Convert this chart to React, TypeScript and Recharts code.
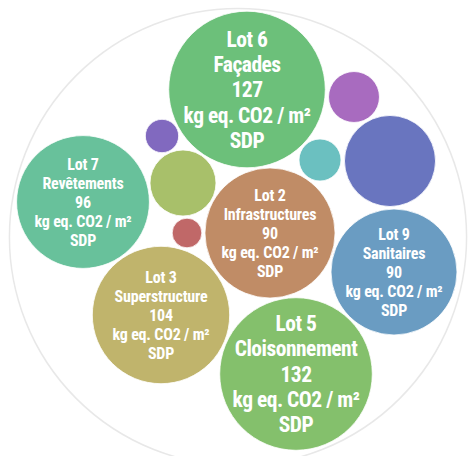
import React from 'react';
import { ScatterChart, Scatter, XAxis, YAxis, ZAxis } from 'recharts';

// Bubble data
const lotNames = ['Lot 6', 'Lot 5', 'Lot 3', 'Lot 7', 'Lot 2', 'Lot 9', 'Lot 8', 'Lot 4', 'Lot 10', 'Lot 11', 'Lot 12', 'Lot 1'];
const lotTitles = ['Façades', 'Cloisonnement', 'Superstructure', 'Revêtements', 'Infrastructures', 'Sanitaires', '', '', '', '', '', ''];
const labelValues: (number | null)[] = [127, 132, 104, 96, 90, 90, null, null, null, null, null, null];
const bubbleWeights = [139, 132, 107, 100, 96, 90, 47, 24.7, 14.7, 10, 6.3, 5];
const posX = [247, 296, 161, 83, 270, 394, 390, 183, 354, 320, 162, 187];
const posY = [89.5, 374, 315, 202, 233, 272, 161, 183, 97, 160, 136, 233];
const colors = ['#6cc07a', '#84c06c', '#c0b46c', '#68c19b', '#c08c66', '#6a9cc2', '#6975bf', '#a8c06a', '#a86bbf', '#6bc0c0', '#8169bf', '#c06868'];
const unitLine1 = 'kg eq. CO2 / m²';
const unitLine2 = 'SDP';

// Enclosing circle
const enclosure = [{ x: 238, y: 237, weight: 1185 }];

const W = 469;
const H = 456;
const PX_PER_SQRT = 6.64;
const ZMAX = 1200;

const bubbles = lotNames.map((name, i) => ({
  name,
  title: lotTitles[i],
  value: labelValues[i],
  weight: bubbleWeights[i],
  x: posX[i],
  y: posY[i],
  color: colors[i],
}));

const FONT = '"Liberation Sans Narrow", "Arial Narrow", "Roboto Condensed", "Liberation Sans", Arial, sans-serif';

const BubbleShape = (props: any) => {
  const { cx, cy, width, payload } = props;
  const r = width / 2;
  const big = payload.weight > 120;
  const fs = big ? 21.5 : 16;
  const lh = big ? 25.3 : 19;
  const ls = big ? -0.5 : -0.2;
  const lines = payload.value != null ? [payload.name, payload.title, String(payload.value), unitLine1, unitLine2] : [];
  const y0 = cy - 2 * lh + fs * 0.36;
  return (
    <g>
      <circle cx={cx} cy={cy} r={r} fill={payload.color} stroke="#ffffff" strokeWidth={0.8} />
      {lines.length > 0 && (
        <text textAnchor="middle" fill="#ffffff" fontFamily={FONT} fontWeight="bold" fontSize={fs} letterSpacing={ls}>
          {lines.map((l, k) => (
            <tspan key={k} x={cx} y={y0 + k * lh}>{l}</tspan>
          ))}
        </text>
      )}
    </g>
  );
};

const EnclosureShape = (props: any) => {
  const { cx, cy, width } = props;
  return <circle cx={cx} cy={cy} r={width / 2} fill="none" stroke="#e8e8e8" strokeWidth={1.5} />;
};

export default function App() {
  return (
    <div style={{ position: 'absolute', left: 0, top: 0, width: W, height: H, background: '#fff' }}>
      <ScatterChart width={W} height={H} margin={{ top: 0, right: 0, bottom: 0, left: 0 }}>
        <XAxis type="number" dataKey="x" domain={[0, W]} hide />
        <YAxis type="number" dataKey="y" domain={[0, H]} reversed hide />
        <ZAxis type="number" dataKey="weight" domain={[0, ZMAX]} range={[0, Math.PI * PX_PER_SQRT * PX_PER_SQRT * ZMAX]} />
        <Scatter data={enclosure} shape={<EnclosureShape />} isAnimationActive={false} />
        <Scatter data={bubbles} shape={<BubbleShape />} isAnimationActive={false} />
      </ScatterChart>
    </div>
  );
}
